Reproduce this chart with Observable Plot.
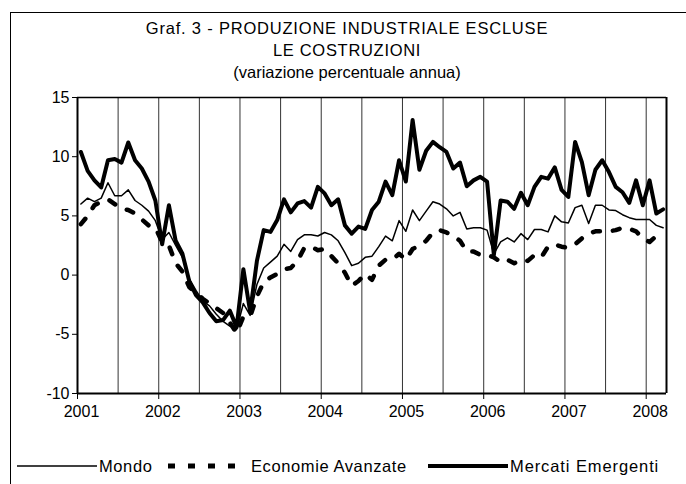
<!DOCTYPE html>
<html>
<head>
<meta charset="utf-8">
<script src="https://cdn.jsdelivr.net/npm/d3@7"></script>
<script src="https://cdn.jsdelivr.net/npm/@observablehq/plot@0.6"></script>
<style>
html,body{margin:0;padding:0;background:#fff;}
#wrap{position:relative;width:686px;height:484px;overflow:hidden;font-family:"Liberation Sans",Arial,sans-serif;color:#000;}
#border{position:absolute;left:10px;top:12px;width:760px;height:560px;border:1px solid #000;box-sizing:border-box;}
#chart{position:absolute;left:0;top:0;}
#title{position:absolute;left:0;top:0;}
#legend{position:absolute;left:0;top:452px;}
</style>
</head>
<body>
<div id="wrap">
  <div id="border"></div>
  <div id="chart"></div>
  <svg id="title" width="686" height="90" font-family="Liberation Sans, Arial, sans-serif" font-size="16.5" text-anchor="middle">
    <text x="347" y="34" letter-spacing="0.8">Graf. 3 - PRODUZIONE INDUSTRIALE ESCLUSE</text>
    <text x="347" y="56" letter-spacing="0.7">LE COSTRUZIONI</text>
    <text x="347" y="78">(variazione percentuale annua)</text>
  </svg>
  <svg id="legend" width="686" height="30" font-family="Liberation Sans, Arial, sans-serif" font-size="16.5">
    <line x1="17" x2="97" y1="14" y2="14" stroke="#000" stroke-width="1.5"/>
    <text x="99" y="19.5" letter-spacing="0.6">Mondo</text>
    <line x1="168" x2="247" y1="14" y2="14" stroke="#000" stroke-width="5" stroke-dasharray="7,13"/>
    <text x="251" y="19.5" letter-spacing="0.6">Economie Avanzate</text>
    <line x1="428" x2="508" y1="14" y2="14" stroke="#000" stroke-width="4"/>
    <text x="510" y="19.5" letter-spacing="0.9">Mercati Emergenti</text>
  </svg>
</div>
<script>
const years = [2001, 2002, 2003, 2004, 2005, 2006, 2007, 2008];
const yTicks = [-10, -5, 0, 5, 10, 15];

// Monthly values, Jan 2001 - Mar 2008
const mondo = [
  6.0, 6.5, 6.2, 6.5, 7.8, 6.7, 6.7, 7.2, 6.3, 5.9, 5.4, 4.6,
  3.0, 3.6, 2.5, 1.5, -0.3, -1.3, -2.2, -2.6, -3.3, -3.9, -4.3, -4.6,
  -2.4, -3.4, -0.8, 0.6, 1.1, 1.6, 2.6, 2.0, 3.0, 3.4, 3.4, 3.3,
  3.6, 3.4, 2.9, 1.9, 0.8, 1.0, 1.5, 1.6, 2.4, 3.3, 2.9, 4.6,
  3.7, 5.5, 4.6, 5.4, 6.2, 6.0, 5.6, 5.0, 5.3, 3.9, 4.0, 4.0,
  3.8, 1.8, 2.8, 3.15, 2.8, 3.5, 3.0, 3.85, 3.85, 3.65, 5.0, 4.5,
  4.4, 5.7, 5.9, 4.35, 5.9, 5.9, 5.5, 5.45, 5.1, 4.85, 4.7, 4.7,
  4.7, 4.2, 4.0
];
const avanzate = [
  4.3, 5.0, 5.9, 6.2, 6.4, 6.0, 5.6, 5.5, 5.2, 4.7, 4.2, 4.0,
  2.8, 2.5, 1.0, 0.3, -1.0, -1.5, -2.0, -2.4, -2.8, -3.2, -4.0, -4.9,
  -3.5, -3.5, -1.8, -0.6, -0.2, 0.1, 0.5, 0.6, 1.2, 2.3, 2.4, 2.1,
  2.2, 1.6, 1.0, 0.2, -0.9, -0.5, 0.1, -0.4, 0.8, 1.3, 1.3, 1.8,
  1.3, 2.2, 2.5, 2.9, 3.6, 3.8, 3.6, 3.3, 2.9, 2.0, 2.0, 1.7,
  1.7, 1.5, 1.1, 1.3, 1.0, 1.3, 1.2, 1.7, 1.5, 2.4, 2.6, 2.4,
  2.3, 2.6, 3.1, 3.5, 3.7, 3.7, 3.7, 3.8, 4.0, 3.9, 3.7, 3.1,
  2.8, 3.3, 3.5
];
const emergenti = [
  10.4, 8.8, 8.0, 7.4, 9.7, 9.8, 9.5, 11.2, 9.7, 9.0, 7.9, 6.3,
  2.6, 5.9, 2.9, 1.8, -0.5, -1.7, -2.3, -3.2, -3.9, -3.8, -3.0, -4.4,
  0.5, -3.1, 1.2, 3.8, 3.65, 4.65, 6.4, 5.3, 6.05, 6.25, 5.7, 7.45,
  6.9, 5.9, 6.4, 4.2, 3.5, 4.1, 3.9, 5.5, 6.2, 7.9, 6.75, 9.7,
  7.9, 13.1, 8.9, 10.5, 11.25, 10.8, 10.4, 9.0, 9.5, 7.5, 8.0, 8.3,
  7.9, 1.7, 6.3, 6.2, 5.6, 6.95, 5.9, 7.45, 8.3, 8.15, 9.1, 7.2,
  6.6, 11.25, 9.55, 6.75, 8.9, 9.7, 8.7, 7.45, 7.0, 6.1, 8.0, 5.9,
  8.0, 5.2, 5.55
];

const nMonths = mondo.length;
const rows = mondo.map((v, i) => ({m: i + 0.5, mondo: v, avanzate: avanzate[i], emergenti: emergenti[i]}));
const halfYears = d3.range(6, nMonths, 6);
const yearTicks = years.map((y, k) => k * 12);

const chart = Plot.plot({
  width: 686,
  height: 484,
  marginLeft: 77,
  marginRight: 20,
  marginTop: 97,
  marginBottom: 91,
  x: {domain: [0, nMonths], label: null},
  y: {domain: [-10, 15], label: null},
  style: {fontFamily: "Liberation Sans, Arial, sans-serif", fontSize: "16px", color: "#000", background: "transparent", overflow: "visible"},
  marks: [
    Plot.ruleX(halfYears, {stroke: "#333", strokeWidth: 1}),
    Plot.lineY(rows, {x: "m", y: "avanzate", stroke: "#000", strokeWidth: 4.5, strokeDasharray: "7,13"}),
    Plot.lineY(rows, {x: "m", y: "mondo", stroke: "#000", strokeWidth: 1.5}),
    Plot.lineY(rows, {x: "m", y: "emergenti", stroke: "#000", strokeWidth: 4}),
    Plot.ruleY([15], {stroke: "#000", strokeWidth: 1.5}),
    Plot.ruleX([nMonths], {stroke: "#000", strokeWidth: 2}),
    Plot.ruleX([0], {stroke: "#000", strokeWidth: 2}),
    Plot.ruleY([-10], {stroke: "#000", strokeWidth: 2}),
    Plot.axisY({ticks: yTicks, tickSize: 5, tickPadding: 3, tickFormat: d => String(d), label: null}),
    Plot.axisX({ticks: yearTicks, tickSize: 6, tickFormat: () => "", label: null}),
    Plot.axisX({ticks: yearTicks, tickSize: 0, tickPadding: 12, dx: 4, tickFormat: d => String(years[Math.round(d / 12)]), label: null})
  ]
});
document.getElementById("chart").appendChild(chart);
</script>
</body>
</html>
